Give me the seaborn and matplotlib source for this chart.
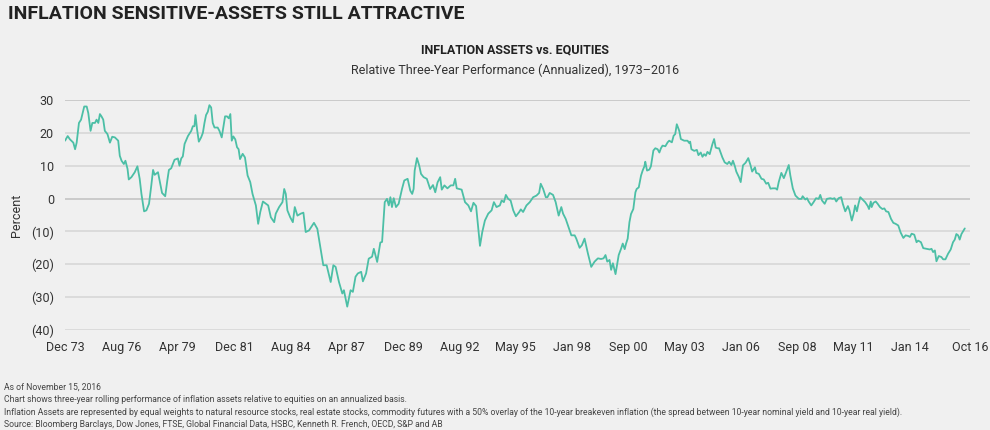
import numpy as np
import pandas as pd
import matplotlib
matplotlib.use("Agg")
import matplotlib.pyplot as plt
import seaborn as sns

# months since Dec 1973
months = [0,1.5,2.8,4.7,5.7,6.6,7.9,9.1,10.9,12.3,13.2,14.5,15.5,17,17.9,18.9,19.8,20.7,21.7,22.6,24.1,25.5,26.8,28.3,30.2,31.1,32.1,33.4,34.3,35.5,36.2,37.7,39.6,41.1,42.4,43.4,44.9,46.2,47.7,49,50,50.9,52.8,54.3,55.1,56.9,58.1,59,60.3,62.2,64.1,65,66,66.9,67.9,69.8,71.7,72.6,73.5,74.1,75,76,77.3,78.3,79.2,80.1,81.1,82,83,83.9,84.9,86.7,87.7,89,90,90.9,92,93,93.9,94.7,95.6,96.7,97.7,98.6,99.4,100.9,102.2,103.7,105.2,106.5,108.4,109.7,110.9,112.4,114.1,115.4,116.9,118.8,119.7,121.6,123.5,124.5,125.4,126.3,127.9,129.4,
          130.5,132,133.9,135.4,136.7,138.6,141.4,143.3,145.2,146.7,148.6,150.9,152.4,153.7,155.6,157.5,158.4,160.3,162.2,163.5,165,166.3,168.2,169.2,171,172.5,174.4,175.4,177.3,179.1,180.1,181.6,182.9,183.9,184.8,185.7,186.7,188,189.5,191.4,192.7,194.6,196.1,197.2,198,198.6,199.9,201.2,202.2,203.7,205.5,207.4,209,210.3,211.6,213.1,214,215.5,217.2,219.1,220.6,221.6,222.5,225.3,227.2,229.1,230.6,232,233.5,235.7,237,238.5,240.4,242.3,243.6,245.1,247,248,249.3,250.4,251.7,253.1,254.6,256.1,258,258.9,260.2,
          262.1,264,265.9,267.8,269.3,270.2,271.6,273.1,274,275.3,277.2,278.7,280.4,281.9,282.9,284.4,285.7,287.6,289.5,290.4,292.3,293.6,295.1,297,298.9,300.8,302.7,304.5,305.9,307,308,309.3,310.2,311.2,312.7,314.5,315.9,316.8,317.9,318.7,319.6,320.6,321.5,322.8,324,324.7,325.9,327.2,328.1,329.1,329.6,330.6,331.9,332.8,334.2,335.3,336.6,337.6,338.5,339.4,341,342.3,343.2,344.7,345.7,346.6,347.5,348.9,349.8,351.7,353.6,354.5,355.1,355.8,357.4,358.9,359.8,361.1,362.1,363,364,364.9,366.2,367.7,368.7,369.6,370.6,371.5,372.4,373.4,374.7,376.2,377.2,378.5,379.4,380.5,381.3,382.8,383.8,385.1,386.6,388.1,389.4,390.3,
          391.9,392.6,394.1,395.6,396.9,398.3,399.4,400.7,402,403.6,404.5,405.4,406.9,408.3,409.6,411.1,412,413.4,414.9,416.8,418.3,419,420.5,421.5,422.4,423.9,425.2,426.6,428.1,429,430,431.5,432.8,434.7,436,437.1,438.1,439.4,440.9,441.8,443.2,444.7,445.6,446.9,447.9,448.8,449.8,450.7,451.7,453,454.5,456,456.7,457.7,458.2,459.2,460.5,461.6,462.9,464.3,465.4,466.4,467.7,469.2,470.5,471.8,473.3,474.7,476.2,477.5,479,479.9,480.9,482.4,483.7,484.6,486.2,487.5,489.4,491.2,492.2,493.1,494.1,495,496.3,497.8,498.8,500.1,501.6,503.1,504.4,505.4,506.3,507.3,508.2,509.2,511.1]
values = [17.6,19,18,17,15,17,23,24,28,28,26,20.6,23,23,24,23,25.7,25,24,20.6,19.6,17,18.8,18.6,17.6,13,11.5,10.5,11.5,9,5.8,6.5,8,9.8,6,1.4,-3.9,-3.6,-1.6,4,8.7,7.2,8,4,1.7,0.7,5.5,8.7,9.2,11.8,12.2,10,12.2,12.8,16.6,19,20.6,22,22,25.4,21,17.3,18.6,20,23,25.4,26.4,28.4,27.7,23,21.6,21.6,20.6,18.6,22,25,25,24.4,25.7,17.6,18.9,18,15.6,15,12,13.6,12.5,7,5,1.4,-2.1,-7.7,-4.1,-0.9,-1.6,-2.1,-5.7,-7.2,-4.6,-2.6,-1.1,2.9,1.4,-3.6,-5.7,-7.2,
          -2.6,-5.2,-4.6,-4.3,-10.2,-9.7,-7.4,-9.2,-15.3,-20.3,-20.3,-25.4,-20.3,-20.8,-25.4,-28.9,-27.9,-32.9,-27.9,-28.4,-23.8,-22.8,-22.3,-25.2,-22.8,-18.3,-17.7,-15.3,-19.3,-13.4,-13.2,-1.1,-0.1,-2.1,0.4,-2.6,0.1,-2.6,-1.6,2.9,5.5,6,2.4,1.4,2.9,8.5,12.3,10,7.5,6.5,6,2.9,4.1,1.9,4.9,6.5,2.7,4,3.1,4,4,6,3.1,2.7,-1.1,-2.1,-3.9,-1.3,-2.3,-14.4,-10.2,-6.7,-4.6,-3.6,-1.1,-2.6,-2.1,-0.6,-1.1,1.1,-0.1,-0.6,-3.6,-5.4,-4.1,-3.3,-4.1,
          -2.1,-1.1,0.4,0.9,1.7,4.5,2.9,0.4,0.4,1.7,1.1,-1.1,-5.2,-2.6,-4.6,-6.2,-8.2,-11.2,-11.2,-12.2,-15,-14.2,-12.2,-16.7,-20.8,-19.2,-18.2,-18.4,-18.2,-17.2,-19.2,-18.7,-21.7,-19.7,-23,-17.2,-15.2,-13.7,-15.4,-13.7,-12.2,-7.2,-4.7,-3.2,1.9,2.9,3.4,7.0,8.5,9.8,11.2,8.5,8.8,9.8,14.6,15.3,15.0,14.0,15.3,16.1,15.9,17.1,17.6,17.1,19.1,19.6,22.6,20.6,18.1,17.6,17.6,16.9,17.3,15.0,14.5,14.8,13.2,14.0,12.7,13.5,13.0,14.2,13.5,16.5,18.1,15.5,15.3,15.3,14.0,12.5,11.0,10.5,11.2,10.2,11.5,9.8,8.2,6.5,5.0,10.1,10.9,12.3,10.1,8.2,
          9.5,7.8,7.5,6.0,5.8,4.5,4.8,3.0,3.1,3.1,2.7,5.0,7.8,6.2,8.0,10.2,7.0,3.1,0.9,-0.1,-0.1,0.7,-0.3,0.1,-0.9,-2.1,-1.1,0.1,-0.1,1.1,-0.6,-1.6,-0.1,0.1,-0.1,0.1,-0.9,0.1,0.4,-1.6,-3.9,-2.3,-3.6,-6.7,-4.7,-2.1,-3.9,-1.6,0.4,-0.3,-1.1,-2.3,-3.2,-0.9,-2.6,-1.3,-0.9,-1.6,-2.6,-3.2,-3.0,-3.9,-4.1,-6.2,-7.4,-7.7,-8.2,-10.4,-12.0,-11.2,-11.4,-11.7,-10.7,-11.0,-13.3,-12.8,-13.3,-15.1,-15.3,-15.5,-15.3,-16.3,-15.8,-19.1,-17.5,-17.8,-18.5,-18.5,-16.8,-15.5,-13.3,-12.5,-10.8,-11.2,-12.5,-10.8,-9.1]
tick_labels = ["Dec 73","Aug 76","Apr 79","Dec 81","Aug 84","Apr 87","Dec 89","Aug 92","May 95",
               "Jan 98","Sep 00","May 03","Jan 06","Sep 08","May 11","Jan 14","Oct 16"]
tick_months = [0,32,64,96,128,160,192,224,256,288,320,352,384,416,448,480,514]
yticks = [30,20,10,0,-10,-20,-30,-40]

df = pd.DataFrame({"m": months, "v": values})

sns.set_theme(style="white")
plt.rcParams['font.family'] = ['Roboto', 'DejaVu Sans']
bg = "#f0f0f0"
fig = plt.figure(figsize=(9.9, 4.3), dpi=100, facecolor=bg)
ax = fig.add_axes([0.0657, 0.2326, 0.914, 0.535], facecolor=bg)
for y in yticks:
    ax.axhline(y, color="#c8c8c8" if y in (30, 0) else "#d9d9d9", lw=1.3, zorder=0)
sns.lineplot(data=df, x="m", y="v", ax=ax, color="#4cbfa6", lw=1.3)
ax.set_xlim(0, 514)
ax.set_ylim(-40, 30)
ax.set_xticks(tick_months)
ax.set_xticklabels(tick_labels, fontsize=9, color="#333333")
ax.set_yticks(yticks)
ax.set_yticklabels([f"({-y})" if y < 0 else str(y) for y in yticks], fontsize=9, color="#333333")
ax.tick_params(length=0, pad=8)
ax.set_xlabel("")
ax.set_ylabel("Percent", fontsize=9, color="#333333", labelpad=6)
for s in ax.spines.values():
    s.set_visible(False)

fig.text(0.008, 0.955, "INFLATION SENSITIVE-ASSETS STILL ATTRACTIVE", fontsize=14, fontweight="bold",
         color="#222222", fontstretch="condensed")
fig.text(0.52, 0.875, "INFLATION ASSETS vs. EQUITIES", fontsize=9, fontweight="bold", ha="center", color="#222222")
fig.text(0.52, 0.828, "Relative Three-Year Performance (Annualized), 1973\u20132016", fontsize=9, ha="center", color="#333333")
notes = ["As of November 15, 2016",
         "Chart shows three-year rolling performance of inflation assets relative to equities on an annualized basis.",
         "Inflation Assets are represented by equal weights to natural resource stocks, real estate stocks, commodity futures with a 50% overlay of the 10-year breakeven inflation (the spread between 10-year nominal yield and 10-year real yield).",
         "Source: Bloomberg Barclays, Dow Jones, FTSE, Global Financial Data, HSBC, Kenneth R. French, OECD, S&P and AB"]
for i, t in enumerate(notes):
    fig.text(0.004, 0.093 - i * 0.029, t, fontsize=6.2, color="#444444")
fig.savefig("out.png", dpi=100, facecolor=bg)
